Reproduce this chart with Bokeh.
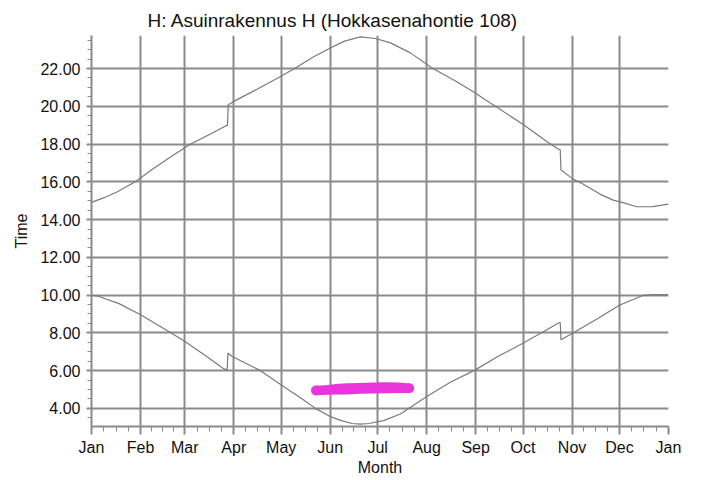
from bokeh.plotting import figure
from bokeh.models import FixedTicker, Range1d, NumeralTickFormatter, ColumnDataSource
from bokeh.embed import file_html
from bokeh.resources import INLINE

# ---- data ----
month_labels = ["Jan", "Feb", "Mar", "Apr", "May", "Jun", "Jul", "Aug", "Sep", "Oct", "Nov", "Dec", "Jan"]
month_days = [31, 28, 31, 30, 31, 30, 31, 31, 30, 31, 30, 31]

# sunset curve (day of year, hour)
sunset_day = [0, 8, 16.4, 28, 38.5, 50, 62.7, 75, 84.8, 86, 86.5, 90, 105, 119.6, 128.5, 140, 151.1, 160,
              170.1, 179.6, 189.1, 201.7, 216, 230, 242.8, 249, 255.6, 273.3, 288, 295.4, 296.5, 297,
              304.9, 310, 321.7, 330, 334.4, 345, 355, 364.9]
sunset_hour = [14.91, 15.16, 15.47, 16.02, 16.66, 17.32, 18.0, 18.52, 18.96, 18.99, 20.08, 20.26, 20.92, 21.58,
               22.0, 22.6, 23.09, 23.45, 23.68, 23.59, 23.36, 22.83, 22.0, 21.35, 20.70, 20.35, 20.0,
               19.02, 18.13, 17.73, 17.70, 16.63, 16.13, 15.92, 15.35, 15.03, 14.94, 14.68, 14.69, 14.82]

# sunrise curve (day of year, hour)
sunrise_day = [0, 3.8, 17.4, 31.1, 51.2, 59.6, 72, 83.8, 85.8, 86.3, 89, 106, 119.6, 133.3, 141.7,
               151.2, 158, 164.9, 170, 175.4, 184.8, 195.4, 212.3, 227, 242.8, 257, 272.3, 285, 295.4,
               296.5, 297, 303.8, 320, 333.9, 349.1, 355, 364.9]
sunrise_hour = [10.0, 9.95, 9.55, 8.96, 7.95, 7.51, 6.80, 6.09, 6.04, 6.93, 6.75, 6.04, 5.26, 4.50, 4.00,
                3.56, 3.35, 3.20, 3.17, 3.20, 3.35, 3.70, 4.64, 5.38, 6.04, 6.75, 7.42, 8.02, 8.52,
                8.55, 7.63, 7.95, 8.75, 9.46, 9.99, 10.03, 10.03]

# shadow band (day of year, start hour, end hour)
band_day = [142, 150, 156, 162, 170, 178, 186, 194, 201]
band_start = [4.70, 4.72, 4.73, 4.74, 4.77, 4.79, 4.80, 4.81, 4.82]
band_end = [5.20, 5.24, 5.30, 5.33, 5.35, 5.37, 5.38, 5.37, 5.32]

y_major = [4, 6, 8, 10, 12, 14, 16, 18, 20, 22]

# ---- derived tick positions ----
month_starts = [0]
for d in month_days:
    month_starts.append(month_starts[-1] + d)
month_minor = []
for i, d in enumerate(month_days):
    for k in (1, 2, 3):
        month_minor.append(month_starts[i] + k * d / 4.0)
y_minor = [v / 2.0 for v in range(7, 48) if v % 4 != 0]

GRID = "#8a8a8a"
FONT = "Liberation Sans"

p = figure(width=701, height=480, output_backend="svg", toolbar_location=None,
           x_range=Range1d(0, 365), y_range=Range1d(3.04, 23.75),
           min_border_left=91, min_border_right=33, min_border_top=35, min_border_bottom=54)
p.outline_line_color = None
p.background_fill_color = "white"
p.border_fill_color = "white"

p.title.text = "H: Asuinrakennus H (Hokkasenahontie 108)"
p.title.text_font = FONT
p.title.text_font_size = "19px"
p.title.text_font_style = "normal"
p.title.text_color = "#111111"
p.title.align = "left"
p.title.offset = 56

# axes
p.xaxis.ticker = FixedTicker(ticks=month_starts, minor_ticks=month_minor)
p.xaxis.major_label_overrides = {m: lab for m, lab in zip(month_starts, month_labels)}
p.yaxis.ticker = FixedTicker(ticks=y_major, minor_ticks=y_minor)
p.yaxis.formatter = NumeralTickFormatter(format="0.00")
p.xaxis.axis_label = "Month"
p.yaxis.axis_label = "Time"
for ax in (p.xaxis[0], p.yaxis[0]):
    ax.axis_line_color = GRID
    ax.axis_line_width = 2
    ax.major_tick_line_color = GRID
    ax.major_tick_line_width = 2
    ax.minor_tick_line_color = GRID
    ax.minor_tick_line_width = 1
    ax.major_tick_in = 0
    ax.minor_tick_in = 0
    ax.major_label_text_font = FONT
    ax.major_label_text_font_size = "16px"
    ax.major_label_text_color = "#111111"
    ax.axis_label_text_font = FONT
    ax.axis_label_text_font_size = "16px"
    ax.axis_label_text_font_style = "normal"
    ax.axis_label_text_color = "#111111"
p.xaxis.major_tick_out = 8
p.xaxis.minor_tick_out = 5
p.yaxis.major_tick_out = 5
p.yaxis.minor_tick_out = 4
p.xaxis.major_label_standoff = 4
p.yaxis.major_label_standoff = 6
p.xaxis.axis_label_standoff = 0
p.yaxis.axis_label_standoff = 7

# grid
p.xgrid.ticker = FixedTicker(ticks=month_starts[:-1])
p.ygrid.ticker = FixedTicker(ticks=y_major)
for g in (p.xgrid[0], p.ygrid[0]):
    g.grid_line_color = GRID
    g.grid_line_width = 2

# curves
p.line(sunset_day, sunset_hour, line_color="#7a7a7a", line_width=1.2)
p.line(sunrise_day, sunrise_hour, line_color="#7a7a7a", line_width=1.2)

# shadow band
MAG = "#e935d9"
p.varea(x=band_day, y1=band_start, y2=band_end, fill_color=MAG)
ends = ColumnDataSource(data=dict(
    x=[band_day[0], band_day[-1]],
    y=[(band_start[0] + band_end[0]) / 2, (band_start[-1] + band_end[-1]) / 2]))
p.scatter("x", "y", source=ends, size=10, fill_color=MAG, line_color=None)

open("out.html", "w").write(file_html(p, INLINE))
